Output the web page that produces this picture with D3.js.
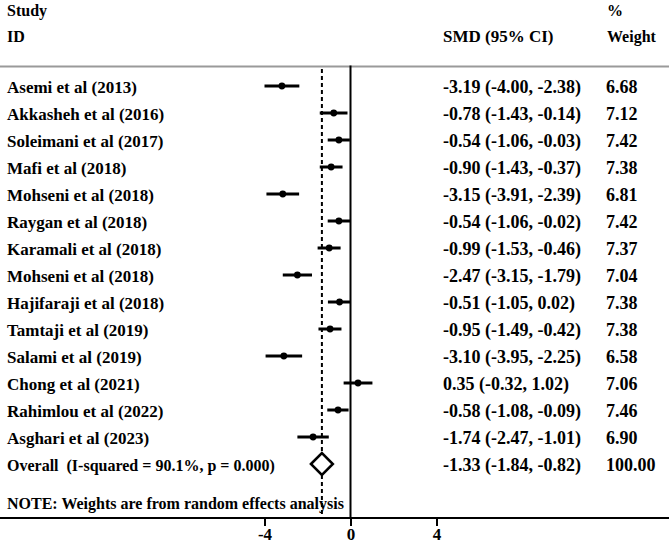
<!DOCTYPE html>
<html>
<head>
<meta charset="utf-8">
<script src="https://cdn.jsdelivr.net/npm/d3@7"></script>
<style>
  body { margin: 0; background: #fff; }
  text { font-family: "Liberation Serif", "Times New Roman", Times, serif; font-weight: bold; font-size: 16px; fill: #000; }
  text.num { font-size: 18px; }
  text.lab { font-size: 17px; }
</style>
</head>
<body>
<div id="forest"></div>
<script>
var w = 669;
var h = 547;

// study data
var studies = ["Asemi et al (2013)", "Akkasheh et al (2016)", "Soleimani et al (2017)", "Mafi et al (2018)",
  "Mohseni et al (2018)", "Raygan et al (2018)", "Karamali et al (2018)", "Mohseni et al (2018)",
  "Hajifaraji et al (2018)", "Tamtaji et al (2019)", "Salami et al (2019)", "Chong et al (2021)",
  "Rahimlou et al (2022)", "Asghari et al (2023)"];
var smd =    [-3.19, -0.78, -0.54, -0.90, -3.15, -0.54, -0.99, -2.47, -0.51, -0.95, -3.10, 0.35, -0.58, -1.74];
var lower =  [-4.00, -1.43, -1.06, -1.43, -3.91, -1.06, -1.53, -3.15, -1.05, -1.49, -3.95, -0.32, -1.08, -2.47];
var upper =  [-2.38, -0.14, -0.03, -0.37, -2.39, -0.02, -0.46, -1.79, 0.02, -0.42, -2.25, 1.02, -0.09, -1.01];
var weight = [6.68, 7.12, 7.42, 7.38, 6.81, 7.42, 7.37, 7.04, 7.38, 7.38, 6.58, 7.06, 7.46, 6.90];

var overallLabel = "Overall  (I-squared = 90.1%, p = 0.000)";
var overall = {smd: -1.33, lower: -1.84, upper: -0.82, weight: 100.00};
var ticks = [-4, 0, 4];

// plain hyphen for negatives, like the original
var fmt = function(v) { return v.toFixed(2); };
var ciText = function(e, l, u) { return fmt(e) + " (" + fmt(l) + ", " + fmt(u) + ")"; };

var svg = d3.select("#forest").append("svg")
  .attr("width", w)
  .attr("height", h);

var xScale = d3.scaleLinear()
  .domain([-4, 4])
  .range([264.5, 436.5]);

var rows = d3.range(studies.length + 1);
var yScale = d3.scalePoint()
  .domain(rows)
  .range([86, 464]);

var axisY = 518;
var topY = 66.5;
var textOff = 6.5;

// header
svg.append("text").attr("x", 7).attr("y", 16).text("Study");
svg.append("text").attr("x", 7).attr("y", 42).text("ID");
svg.append("text").attr("x", 443).attr("y", 42).style("font-size", "17px").text("SMD (95% CI)");
svg.append("text").attr("x", 607).attr("y", 16).text("%");
svg.append("text").attr("x", 607).attr("y", 42).text("Weight");

// top rule
svg.append("line")
  .attr("x1", 0).attr("x2", w)
  .attr("y1", topY).attr("y2", topY)
  .attr("stroke", "#9a9a9a")
  .attr("stroke-width", 2);

// overall effect dashed line
svg.append("line")
  .attr("x1", xScale(overall.smd)).attr("x2", xScale(overall.smd))
  .attr("y1", 69).attr("y2", axisY)
  .attr("stroke", "#000")
  .attr("stroke-width", 2)
  .attr("stroke-dasharray", "4,3");

// null line
svg.append("line")
  .attr("x1", xScale(0)).attr("x2", xScale(0))
  .attr("y1", topY - 1).attr("y2", axisY)
  .attr("stroke", "#000")
  .attr("stroke-width", 2);

// bottom axis
svg.append("line")
  .attr("x1", 0).attr("x2", w)
  .attr("y1", axisY).attr("y2", axisY)
  .attr("stroke", "#000")
  .attr("stroke-width", 2);

var xAxis = d3.axisBottom(xScale)
  .tickValues(ticks)
  .tickSize(8)
  .tickFormat(function(d) { return String(d); });

var gx = svg.append("g")
  .attr("transform", "translate(0," + axisY + ")")
  .call(xAxis);
gx.select(".domain").remove();
gx.attr("font-family", null).attr("font-size", null);
gx.selectAll(".tick line").attr("stroke", "#000").attr("stroke-width", 2);
gx.selectAll(".tick text")
  .attr("y", 22)
  .attr("dy", null)
  .attr("fill", "#000")
  .style("font-size", "17px");

// study rows
var idx = d3.range(studies.length);

svg.selectAll(".ci")
  .data(idx)
  .enter()
  .append("line")
  .attr("class", "ci")
  .attr("x1", function(i) { return xScale(lower[i]); })
  .attr("x2", function(i) { return xScale(upper[i]); })
  .attr("y1", function(i) { return yScale(i); })
  .attr("y2", function(i) { return yScale(i); })
  .attr("stroke", "#000")
  .attr("stroke-width", 3);

svg.selectAll(".pt")
  .data(idx)
  .enter()
  .append("circle")
  .attr("class", "pt")
  .attr("cx", function(i) { return xScale(smd[i]); })
  .attr("cy", function(i) { return yScale(i); })
  .attr("r", 3.4)
  .attr("fill", "#000");

svg.selectAll(".lab")
  .data(idx)
  .enter()
  .append("text")
  .attr("class", "lab")
  .attr("x", 7)
  .attr("y", function(i) { return yScale(i) + textOff; })
  .text(function(i) { return studies[i]; });

svg.selectAll(".est")
  .data(idx)
  .enter()
  .append("text")
  .attr("class", "est num")
  .attr("x", 443)
  .attr("y", function(i) { return yScale(i) + textOff; })
  .text(function(i) { return ciText(smd[i], lower[i], upper[i]); });

svg.selectAll(".wt")
  .data(idx)
  .enter()
  .append("text")
  .attr("class", "wt num")
  .attr("x", 606)
  .attr("y", function(i) { return yScale(i) + textOff; })
  .text(function(i) { return fmt(weight[i]); });

// overall row
var oy = yScale(studies.length);
var diamond = [
  [xScale(overall.lower), oy],
  [xScale(overall.smd), oy - 11],
  [xScale(overall.upper), oy],
  [xScale(overall.smd), oy + 11]
];
svg.append("path")
  .attr("d", d3.line()(diamond) + "Z")
  .attr("fill", "#fff")
  .attr("stroke", "#000")
  .attr("stroke-width", 2.5)
  .attr("stroke-linejoin", "miter");

svg.append("text").attr("x", 7).attr("y", oy + textOff).style("white-space", "pre").text(overallLabel);
svg.append("text").attr("class", "num").attr("x", 443).attr("y", oy + textOff).text(ciText(overall.smd, overall.lower, overall.upper));
svg.append("text").attr("class", "num").attr("x", 606).attr("y", oy + textOff).text(fmt(overall.weight));

svg.append("text").attr("x", 7).attr("y", 509).text("NOTE: Weights are from random effects analysis");
</script>
</body>
</html>
